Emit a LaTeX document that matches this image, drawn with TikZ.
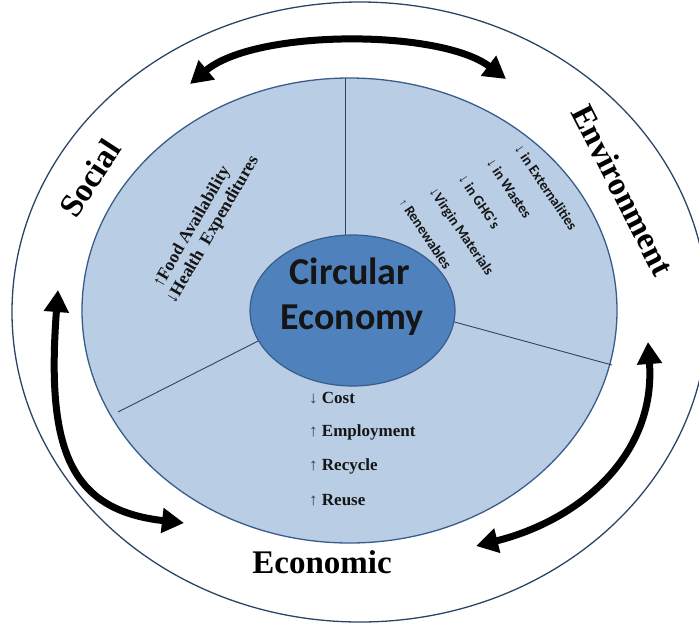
\documentclass[tikz,border=0pt]{standalone}
\usepackage{fontspec}
\setmainfont{Liberation Serif}
\newfontfamily\calfont{Carlito}
\newfontfamily\arrfont{Liberation Sans}
\usetikzlibrary{arrows.meta}
\definecolor{lightblue}{HTML}{B9CDE5}
\definecolor{midblue}{HTML}{4F81BD}
\definecolor{edgeblue}{HTML}{385D8A}
\definecolor{navy}{HTML}{2C4466}
\definecolor{inkdark}{HTML}{151515}
\begin{document}
\begin{tikzpicture}[x=1pt,y=-1pt,
  bigarrow/.style={line width=7pt,{Triangle[length=22pt,width=24pt]}-{Triangle[length=22pt,width=24pt]}},
  ring/.style={draw=navy,line width=1.3pt},
  divider/.style={draw=navy,line width=0.9pt},
  biglabel/.style={inner sep=0pt,font=\fontsize{33}{36}\selectfont\bfseries,text=black},
  leftlist/.style={inner sep=0pt,anchor=west,rotate=60,font=\fontsize{17.5}{19}\selectfont\bfseries,text=inkdark},
  envlist/.style={inner sep=0pt,anchor=west,rotate=-56,font=\calfont\fontsize{14.5}{16}\selectfont\bfseries,text=inkdark},
  ecolist/.style={inner sep=0pt,anchor=west,font=\fontsize{17}{19}\selectfont\bfseries,text=inkdark},
  core/.style={inner sep=0pt,font=\calfont\fontsize{38}{40}\selectfont\bfseries,text=inkdark}
]
\useasboundingbox (0,0) rectangle (699,625);
% outer ring
\draw[ring,fill=white] (360,312) ellipse [x radius=348, y radius=310];
% blue disc
\draw[ring,draw=edgeblue,fill=lightblue] (349.5,310.5) ellipse [x radius=267.5, y radius=232.5];
% dividers
\draw[divider] (345,78) -- (345,240);
\draw[divider] (118,412) -- (270,335);
\draw[divider] (440,318) -- (612,365);
% core ellipse
\draw[draw=edgeblue,line width=1.2pt,fill=midblue] (352.5,310.5) ellipse [x radius=102.5, y radius=75.5];
\node[core] (c1) at (350,271) {Circular};
\node[core] (c2) at (352,320) {Economy};
% arrows
\coordinate (ta) at (190,84);
\coordinate (tb) at (506,79);
\draw[bigarrow] (ta) .. controls (255,29) and (440,29) .. (tb);
\coordinate (la) at (58,290);
\coordinate (lb) at (184,523);
\draw[bigarrow] (la) .. controls (46,450) and (70,510) .. (lb);
\coordinate (ra) at (648,342);
\coordinate (rb) at (476,546);
\draw[bigarrow] (rb) .. controls (580,520) and (656,455) .. (ra);
% big labels
\node[biglabel,rotate=57] (s1) at (90,178) {Social};
\node[biglabel,rotate=-63] (e1) at (623,190) {Environment};
\node[biglabel] (k1) at (322,562) {Economic};
% social list
\node[leftlist] (f1) at (158,287) {{\arrfont\mdseries ↑}Food Availability};
\node[leftlist] (f2) at (171,303) {{\arrfont\mdseries ↓}Health\ \ Expenditures};
% environment list
\node[envlist] (v1) at (518,146) {{\arrfont\bfseries ↓} in Externalities};
\node[envlist] (v2) at (490,160) {{\arrfont\bfseries ↓} in Wastes};
\node[envlist] (v3) at (462,176) {{\arrfont\bfseries ↓} in GHG's};
\node[envlist] (v4) at (432,189) {{\arrfont\bfseries ↓}Virgin Materials};
\node[envlist] (v5) at (403,200) {{\arrfont\mdseries\fontsize{11}{12}\selectfont ↑} Renewables};
% economic list
\node[ecolist] (p1) at (309,398) {{\arrfont\mdseries\color{black!75}↓} Cost};
\node[ecolist] (p2) at (309,432) {{\arrfont\mdseries\color{black!75}↑} Employment};
\node[ecolist] (p3) at (309,466) {{\arrfont\mdseries\color{black!75}↑} Recycle};
\node[ecolist] (p4) at (309,500) {{\arrfont\mdseries\color{black!75}↑} Reuse};
\end{tikzpicture}
\end{document}
